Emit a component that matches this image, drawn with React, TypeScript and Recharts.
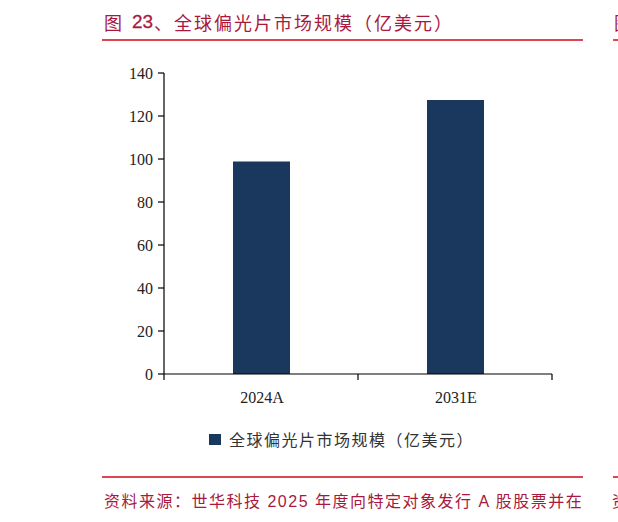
import { BarChart, Bar, XAxis, YAxis } from "recharts";

const categories = ["2024A", "2031E"];
const marketSize = [98.8, 127.4];
const yTicks = [0, 20, 40, 60, 80, 100, 120, 140];

const seriesName = "全球偏光片市场规模（亿美元）";
const titleText = "、全球偏光片市场规模（亿美元）";
const sourceText = "资料来源：世华科技";

const chartData = categories.map((name, i) => ({ name, value: marketSize[i] }));

const W = 618;
const H = 522;
const margin = { top: 73, right: 66, bottom: 118, left: 104 };
const plotW = W - margin.left - 60 - margin.right;
const halfBand = plotW / categories.length / 2;

const serif = "'Liberation Serif', 'DejaVu Serif', serif";
const cjk = "'Noto Sans CJK SC', 'Noto Sans', sans-serif";
const sans = "'Liberation Sans', Arial, sans-serif";
const red = "#a8193d";
const lineRed = "#dc4650";

// label at band centre, tick marks on the band edges like the original
const CategoryTick = (props: any) => {
  const { x, y, payload, index, visibleTicksCount } = props;
  const axisY = y - 18;
  const last = index === visibleTicksCount - 1;
  return (
    <g>
      <line x1={x - halfBand} x2={x - halfBand} y1={axisY} y2={axisY + 6} stroke="#000" strokeWidth={1.2} />
      {last && (
        <line x1={x + halfBand} x2={x + halfBand} y1={axisY} y2={axisY + 6} stroke="#000" strokeWidth={1.2} />
      )}
      <text x={x + 1} y={y} dy="0.71em" textAnchor="middle" fill="#222" fontFamily={serif} fontSize={16}>
        {payload.value}
      </text>
    </g>
  );
};

const titlePiece = {
  position: "absolute" as const,
  top: 10,
  fontFamily: cjk,
  fontSize: 18,
  lineHeight: "24px",
  color: red,
  whiteSpace: "nowrap" as const,
};

export default function App() {
  return (
    <div
      style={{
        position: "absolute",
        left: 0,
        top: 0,
        width: W,
        height: H,
        overflow: "hidden",
        background: "#fff",
      }}
    >
      <div style={{ ...titlePiece, left: 104 }}>图</div>
      <div style={{ ...titlePiece, left: 132, fontFamily: sans, fontSize: 19, fontWeight: 500, WebkitTextStroke: "0.3px " + red }}>
        23
      </div>
      <div style={{ ...titlePiece, left: 154, letterSpacing: 2 }}>{titleText}</div>
      <div style={{ ...titlePiece, left: 614 }}>图</div>
      <div style={{ position: "absolute", left: 102, top: 39, width: 481, height: 2, background: lineRed }} />
      <div style={{ position: "absolute", left: 613, top: 39, width: 10, height: 2, background: lineRed }} />

      <div style={{ position: "absolute", left: 0, top: 0 }}>
        <BarChart width={W} height={H} data={chartData} margin={margin}>
          <XAxis
            dataKey="name"
            tick={<CategoryTick />}
            tickLine={false}
            tickSize={6}
            tickMargin={12}
            axisLine={{ stroke: "#000", strokeWidth: 1.2 }}
            interval={0}
          />
          <YAxis
            width={60}
            domain={[0, 140]}
            ticks={yTicks}
            interval={0}
            tickSize={6}
            tickMargin={5}
            axisLine={{ stroke: "#000", strokeWidth: 1.2 }}
            tickLine={{ stroke: "#000", strokeWidth: 1.2 }}
            tick={{ fill: "#222", fontFamily: serif, fontSize: 16 }}
          />
          <Bar dataKey="value" name={seriesName} fill="#1a375e" barSize={57} isAnimationActive={false} />
        </BarChart>
      </div>

      <div
        style={{
          position: "absolute",
          left: 209,
          top: 428,
          display: "flex",
          alignItems: "center",
          fontFamily: cjk,
          fontSize: 16,
          lineHeight: "22px",
          letterSpacing: 1.5,
          color: "#333",
          whiteSpace: "nowrap",
        }}
      >
        <span style={{ display: "inline-block", width: 12, height: 11, background: "#1a375e", marginRight: 8 }} />
        {seriesName}
      </div>

      <div style={{ position: "absolute", left: 102, top: 476, width: 481, height: 2, background: lineRed }} />
      <div style={{ position: "absolute", left: 613, top: 476, width: 10, height: 2, background: lineRed }} />
      <div
        style={{
          position: "absolute",
          left: 104,
          top: 488,
          fontFamily: cjk,
          fontSize: 16,
          lineHeight: "24px",
          letterSpacing: 1.5,
          color: red,
          whiteSpace: "nowrap",
        }}
      >
        {sourceText}
        <span style={{ fontFamily: sans }}> 2025 </span>
        年度向特定对象发行
        <span style={{ fontFamily: sans }}> A </span>
        股股票并在
      </div>
      <div style={{ position: "absolute", left: 612, top: 488, fontFamily: cjk, fontSize: 16, lineHeight: "24px", color: red }}>
        资
      </div>
    </div>
  );
}
